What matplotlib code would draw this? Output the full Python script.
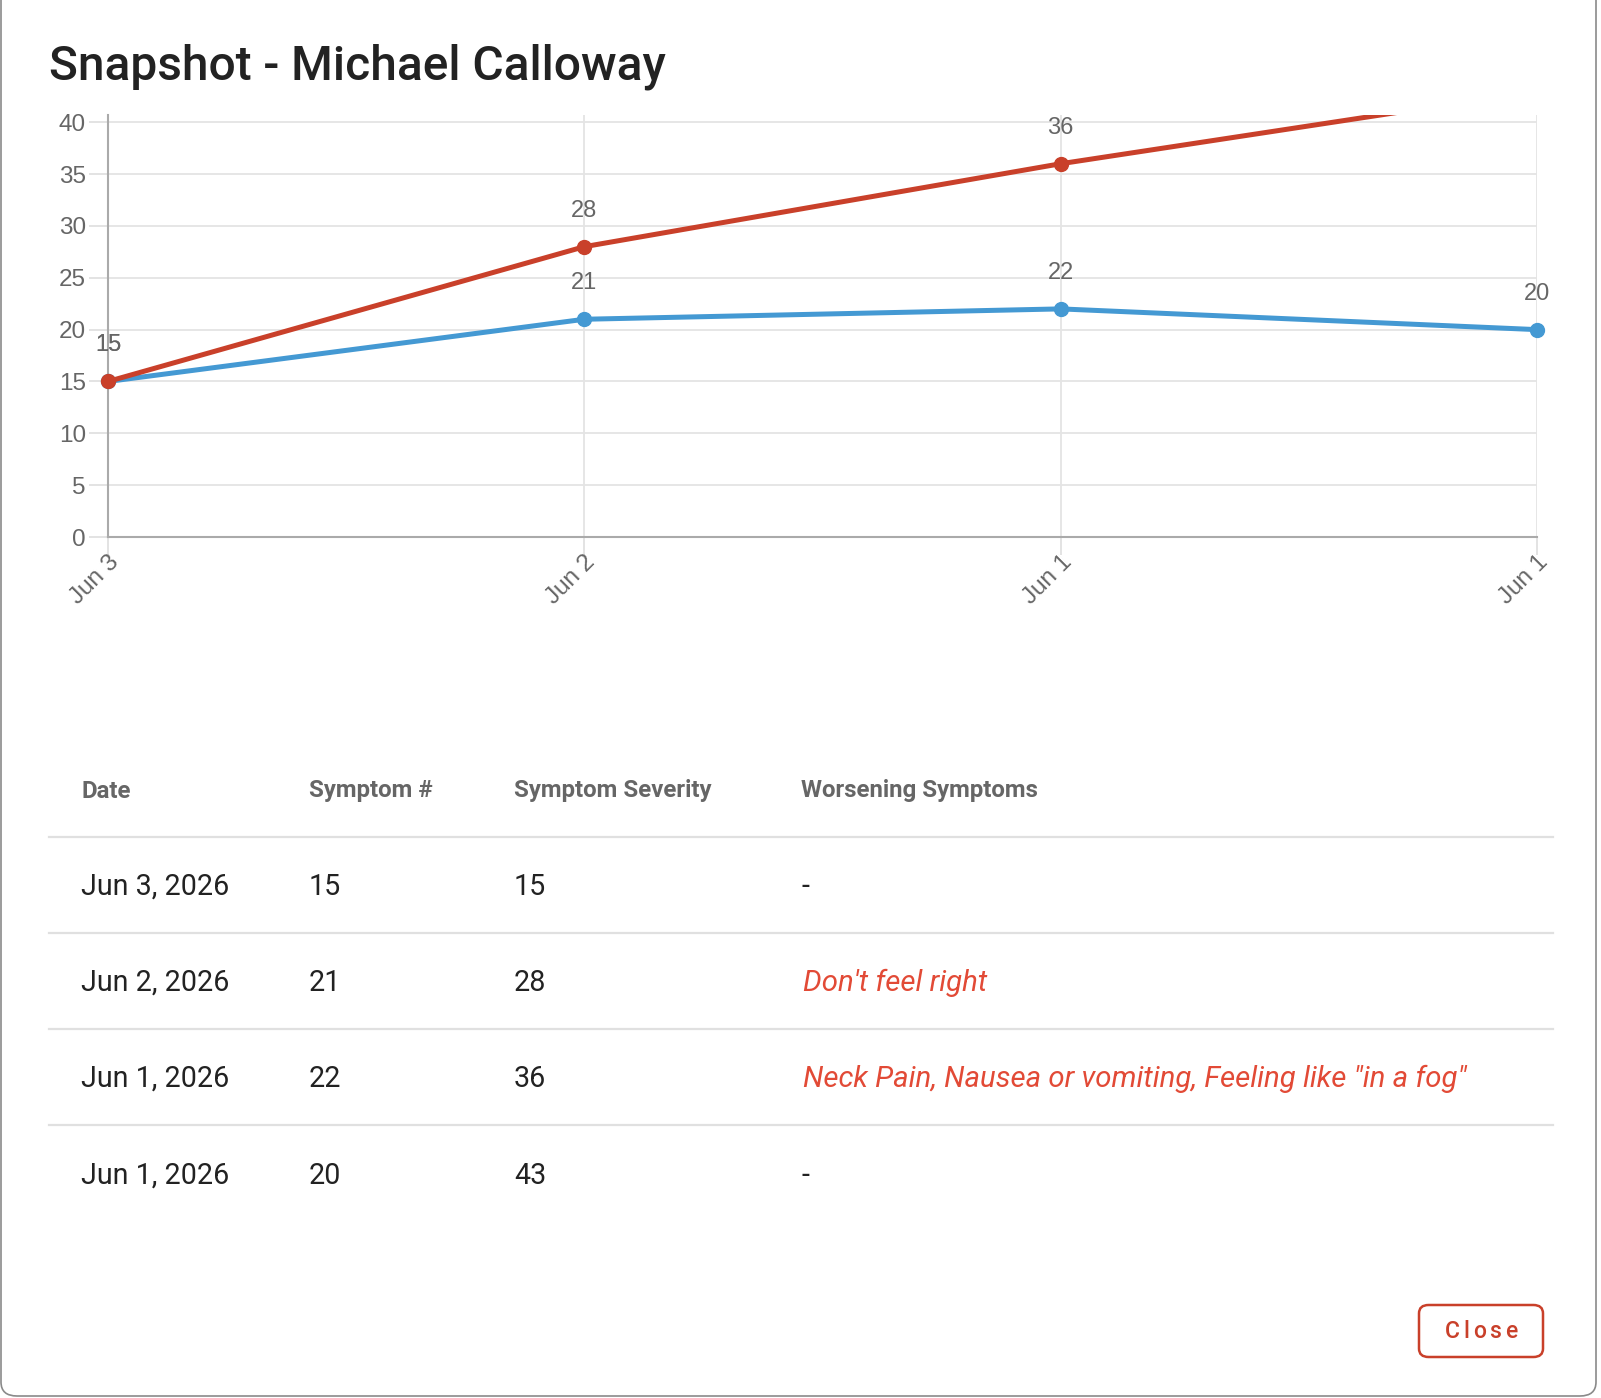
import matplotlib
matplotlib.use('Agg')
import matplotlib.pyplot as plt
from matplotlib.patches import FancyBboxPatch
from matplotlib.lines import Line2D

# chart data
dates = ['Jun 3', 'Jun 2', 'Jun 1', 'Jun 1']
symptom_count = [15, 21, 22, 20]
symptom_severity = [15, 28, 36, 43]
y_ticks = [0, 5, 10, 15, 20, 25, 30, 35, 40]

# table data
headers = ['Date', 'Symptom #', 'Symptom Severity', 'Worsening Symptoms']
row_dates = ['Jun 3, 2026', 'Jun 2, 2026', 'Jun 1, 2026', 'Jun 1, 2026']
worsening = ['-', "Don't feel right", 'Neck Pain, Nausea or vomiting, Feeling like "in a fog"', '-']

W, H = 1601, 1398
BLUE = '#4499d3'
RED = '#c9402a'
GRAY = '#666666'


def fx(x):
    return x / W


def fy(y):
    return 1 - y / H


def main():
    fig = plt.figure(figsize=(W / 100, H / 100), dpi=100)

    # modal frame
    fig.patches.append(FancyBboxPatch((fx(1), fy(1396)), fx(1595), fy(0) - fy(1396) + 0.05,
                                      boxstyle='round,pad=0,rounding_size=0.01',
                                      transform=fig.transFigure, fc='white', ec='#8a8a8a',
                                      lw=1.2, zorder=-5))

    fig.text(fx(49), fy(67), 'Snapshot - Michael Calloway', family='Roboto', fontweight='medium',
             fontsize=34.5, color='#222222', va='center', ha='left')

    # line chart
    ax = fig.add_axes([fx(108), fy(537), fx(1537) - fx(108), fy(115) - fy(537)])
    x = list(range(len(dates)))
    top = 40.7
    ax.plot(x, symptom_count, color=BLUE, lw=3.6, zorder=3)
    ax.plot(x, symptom_severity, color=RED, lw=3.6, zorder=4)
    for series, col, z in [(symptom_count, BLUE, 3.5), (symptom_severity, RED, 4.5)]:
        px = [xi for xi, v in zip(x, series) if v <= top]
        py = [v for v in series if v <= top]
        ax.plot(px, py, ls='none', marker='o', ms=10, color=col, zorder=z, clip_on=False)
        for xi, v in zip(px, py):
            ax.annotate(str(v), (xi, v), xytext=(0, 26), textcoords='offset points',
                        ha='center', va='center', fontsize=17, color=GRAY,
                        family='Liberation Sans')
    ax.set_xlim(0, 3)
    ax.set_ylim(0, top)
    ax.set_yticks(y_ticks)
    ax.set_xticks(x)
    ax.set_xticklabels(dates, rotation=45, ha='right', rotation_mode='anchor')
    for lab in ax.get_xticklabels() + ax.get_yticklabels():
        lab.set_family('Liberation Sans')
    ax.tick_params(axis='y', length=14, width=1.3, color='#e0e0e0', labelsize=17.5,
                   labelcolor=GRAY, pad=2)
    ax.tick_params(axis='x', length=13, width=1.3, color='#e0e0e0', labelsize=17.5,
                   labelcolor=GRAY, pad=-3)
    ax.grid(True, color='#e4e4e4', lw=1.3)
    ax.set_axisbelow(True)
    for s in ['top', 'right']:
        ax.spines[s].set_visible(False)
    for s in ['left', 'bottom']:
        ax.spines[s].set_color('#aaaaaa')
        ax.spines[s].set_linewidth(1.5)
    ax.set_facecolor('none')

    # table
    col_x = [81, 309, 514, 801]
    for cx, h in zip(col_x, headers):
        fig.text(fx(cx), fy(791), h, family='Roboto', fontweight='bold', fontsize=17.3,
                 color=GRAY, va='center', ha='left')
    line_y = [837, 933, 1029, 1125]
    for ly in line_y:
        fig.add_artist(Line2D([fx(49), fx(1553)], [fy(ly), fy(ly)], color='#e0e0e0', lw=1.6,
                              transform=fig.transFigure))
    row_y = [887, 983, 1079, 1176]
    for i, ry in enumerate(row_y):
        vals = [row_dates[i], str(symptom_count[i]), str(symptom_severity[i])]
        for cx, v in zip(col_x[:3], vals):
            fig.text(fx(cx), fy(ry), v, family='Roboto', fontsize=20.6, color='#222222',
                     va='center', ha='left')
        w = worsening[i]
        if w == '-':
            fig.text(fx(col_x[3]), fy(ry), w, family='Roboto', fontsize=20.6, color='#222222',
                     va='center', ha='left')
        else:
            fig.text(fx(col_x[3] + 2), fy(ry), w, family='Roboto', fontsize=21.2, style='italic',
                     color='#e24a36', va='center', ha='left')

    # close button with letter spacing
    fig.patches.append(FancyBboxPatch((fx(1419), fy(1357)), fx(1543) - fx(1419), fy(1305) - fy(1357),
                                      boxstyle='round,pad=0,rounding_size=0.006',
                                      transform=fig.transFigure, fc='white', ec=RED, lw=1.8))
    renderer = fig.canvas.get_renderer()
    spacing = 3.5
    chars = []
    for ch in 'Close':
        t = fig.text(0, fy(1331), ch, family='Roboto', fontweight='medium', fontsize=16.5,
                     color=RED, va='center', ha='left')
        chars.append((t, t.get_window_extent(renderer).width))
    total = sum(w for _, w in chars) + spacing * (len(chars) - 1)
    cur = 1481 - total / 2
    for t, w in chars:
        t.set_x(fx(cur))
        cur += w + spacing

    fig.savefig('out.png', dpi=100)


if __name__ == '__main__':
    main()
